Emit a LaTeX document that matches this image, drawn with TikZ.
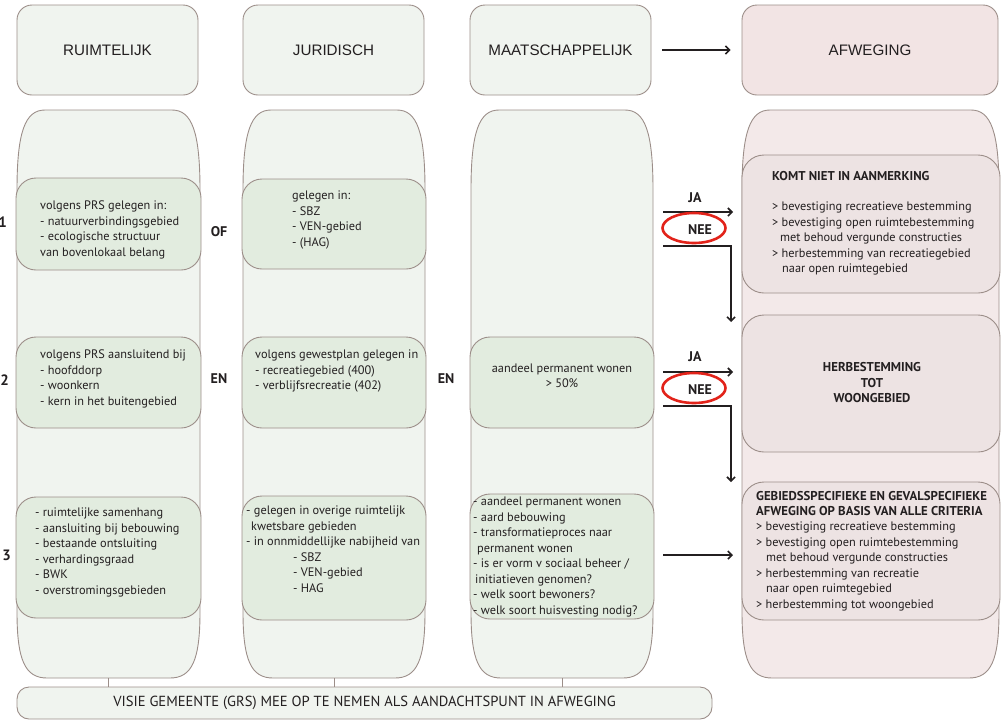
\documentclass[tikz,border=0pt]{standalone}
\usepackage{fontspec}
\setmainfont{PT Sans}
\newfontfamily\headfont{Liberation Sans}
\usetikzlibrary{arrows.meta,shapes.geometric}
\definecolor{bordc}{HTML}{9C8E89}
\definecolor{colgreen}{HTML}{F0F4EF}
\definecolor{innergreen}{HTML}{E2ECDF}
\definecolor{colpink}{HTML}{F3E9E9}
\definecolor{innerpink}{HTML}{EDE3E3}
\definecolor{headpink}{HTML}{F2E4E4}
\definecolor{neered}{HTML}{E2231A}
\definecolor{ink}{HTML}{231F20}
\newcommand{\tallcol}[3]{%
  \draw[colline, fill=#3] (#1,190) .. controls (#1,132) and (#1+8,110) .. (#1+28,110)
    -- (#2-28,110) .. controls (#2-8,110) and (#2,132) .. (#2,190)
    -- (#2,612) .. controls (#2,660) and (#2-8,678) .. (#2-30,678)
    -- (#1+30,678) .. controls (#1+8,678) and (#1,660) .. (#1,612) -- cycle;}
\tikzset{
  colline/.style={draw=bordc, line width=0.9pt},
  headbox/.style={draw=bordc, line width=0.9pt, rounded corners=15pt, minimum height=90pt,
    inner sep=0pt, text=ink, font=\headfont\fontsize{15.2}{17}\selectfont},
  innerg/.style={draw=bordc, fill=innergreen, line width=0.9pt, rounded corners=20pt, inner sep=0pt},
  innerp/.style={draw=bordc, fill=innerpink, line width=0.9pt, rounded corners=22pt, inner sep=0pt},
  txt/.style={align=left, inner sep=0pt, text=ink, font=\fontsize{12.3}{15.5}\selectfont},
  ctxt/.style={align=center, inner sep=0pt, text=ink, font=\fontsize{12.3}{15.5}\selectfont},
  btxt/.style={align=center, inner sep=0pt, text=ink, font=\bfseries\fontsize{12.8}{15.5}\selectfont},
  lbl/.style={inner sep=0pt, text=ink, font=\bfseries\fontsize{14}{16}\selectfont},
  arr/.style={line width=1.6pt, draw=ink, -{Straight Barb[length=4pt,width=8pt]}},
  neering/.style={ellipse, draw=neered, line width=2.6pt, minimum width=63pt, minimum height=30pt, inner sep=0pt},
}
\begin{document}
\begin{tikzpicture}[x=1pt,y=-1pt]
\useasboundingbox (0,0) rectangle (1001,721);

% header boxes
\node[headbox, fill=colgreen, minimum width=181pt] (h1) at (107.5,50) {RUIMTELIJK};
\node[headbox, fill=colgreen, minimum width=181pt] (h2) at (333.5,50) {JURIDISCH};
\node[headbox, fill=colgreen, minimum width=181pt] (h3) at (560.5,50) {MAATSCHAPPELIJK};
\node[headbox, fill=headpink, minimum width=256pt] (h4) at (870,50) {AFWEGING};
\draw[arr] ([xshift=11pt]h3.east) -- ([xshift=-11pt]h4.west);

% tall columns
\tallcol{17}{200}{colgreen}
\tallcol{243}{425}{colgreen}
\tallcol{471}{653}{colgreen}
\tallcol{742}{999}{colpink}

% bottom box
\node[draw=bordc, fill=colgreen, line width=0.9pt, rounded corners=12pt, minimum width=695pt,
  minimum height=32pt, inner sep=0pt, text=ink, font=\fontsize{14.6}{16}\selectfont] (visie) at (364.5,703)
  {VISIE GEMEENTE (GRS) MEE OP TE NEMEN ALS AANDACHTSPUNT IN AFWEGING};
\coordinate (k1) at (108.5,678);
\coordinate (k2) at (334,678);
\coordinate (k3) at (562,678);
\draw[colline] (k1) -- (k1 |- visie.north);
\draw[colline] (k2) -- (k2 |- visie.north);
\draw[colline] (k3) -- (k3 |- visie.north);

% inner boxes column 1
\node[innerg, minimum width=185pt, minimum height=92pt] (c1b1) at (108.5,224) {};
\node[innerg, minimum width=185pt, minimum height=91pt] (c1b2) at (108.5,382.5) {};
\node[innerg, minimum width=185pt, minimum height=121pt] (c1b3) at (108.5,557.5) {};
% column 2
\node[innerg, minimum width=184pt, minimum height=90pt] (c2b1) at (334,224) {};
\node[innerg, minimum width=184pt, minimum height=91pt] (c2b2) at (334,382.5) {};
\node[innerg, minimum width=184pt, minimum height=124pt] (c2b3) at (334,558) {};
% column 3
\node[innerg, minimum width=184pt, minimum height=91pt] (c3b2) at (562,382.5) {};
\node[innerg, minimum width=184pt, minimum height=125pt] (c3b3) at (562,556.5) {};
% right column
\node[innerp, minimum width=258pt, minimum height=138pt] (r1) at (871,224) {};
\node[innerp, minimum width=258pt, minimum height=137pt] (r2) at (871,383.5) {};
\node[innerp, minimum width=258pt, minimum height=138pt] (r3) at (871,551) {};

% texts
\node[txt, anchor=north west] (t11) at (40,201) {volgens PRS gelegen in:\\- natuurverbindingsgebied\\- ecologische structuur\\van bovenlokaal belang};
\node[txt, anchor=north west] (t12) at (40,350) {volgens PRS aansluitend bij\\- hoofddorp\\- woonkern\\- kern in het buitengebied};
\node[txt, anchor=north west] (t13) at (35,508) {- ruimtelijke samenhang\\- aansluiting bij bebouwing\\- bestaande ontsluiting\\- verhardingsgraad\\- BWK\\- overstromingsgebieden};
\node[txt, anchor=north west] (t21) at (292,191) {gelegen in:\\- SBZ\\- VEN-gebied\\- (HAG)};
\node[txt, anchor=north west] (t22) at (255,350) {volgens gewestplan gelegen in\\- recreatiegebied (400)\\- verblijfsrecreatie (402)};
\node[txt, anchor=north west] (t23) at (246,506) {- gelegen in overige ruimtelijk\\\hspace*{5pt}kwetsbare gebieden\\- in onnmiddellijke nabijheid van\\\hspace*{47pt}- SBZ\\\hspace*{47pt}- VEN-gebied\\\hspace*{47pt}- HAG};
\node[ctxt] (t32) at (562,376) {aandeel permanent wonen\\{>} 50\%};
\node[txt, anchor=north west] (t33) at (473,497) {- aandeel permanent wonen\\- aard bebouwing\\- transformatieproces naar\\\hspace*{4pt}permanent wonen\\- is er vorm v sociaal beheer /\\\hspace*{2pt}initiatieven genomen?\\- welk soort bewoners?\\- welk soort huisvesting nodig?};

\node[txt, anchor=north west, font=\bfseries\fontsize{12.8}{15.5}\selectfont] (tr1h) at (772,171) {KOMT NIET IN AANMERKING};
\node[txt, anchor=north west] (tr1) at (772,202) {{>} bevestiging recreatieve bestemming\\{>} bevestiging open ruimtebestemming\\\hspace*{8pt}met behoud vergunde constructies\\{>} herbestemming van recreatiegebied\\\hspace*{10pt}naar open ruimtegebied};
\node[btxt] (tr2) at (872,383) {HERBESTEMMING\\TOT\\WOONGEBIED};
\node[txt, anchor=north west] (tr3h) at (756,491) {\bfseries\fontsize{12.8}{15.5}\selectfont GEBIEDSSPECIFIEKE EN GEVALSPECIFIEKE\\\bfseries\fontsize{12.8}{15.5}\selectfont AFWEGING OP BASIS VAN ALLE CRITERIA};
\node[txt, anchor=north west] (tr3) at (756,522) {{>} bevestiging recreatieve bestemming\\{>} bevestiging open ruimtebestemming\\\hspace*{10pt}met behoud vergunde constructies\\{>} herbestemming van recreatie\\\hspace*{10pt}naar open ruimtegebied\\{>} herbestemming tot woongebied};

% OF / EN labels and numbers
\node[lbl] (of1) at (219,232) {OF};
\node[lbl] (en1) at (219,379) {EN};
\node[lbl] (en2) at (446,379) {EN};
\node[lbl, anchor=east, font=\bfseries\fontsize{15}{17}\selectfont] (n1) at (7,222) {1};
\node[lbl, anchor=east, font=\bfseries\fontsize{15}{17}\selectfont] (n2) at (9,380) {2};
\node[lbl, anchor=east, font=\bfseries\fontsize{15}{17}\selectfont] (n3) at (11,555) {3};

% row 1 decision
\coordinate (a1s) at (663,212);
\coordinate (a1e) at (733,212);
\coordinate (b1s) at (663,246);
\coordinate (b1m) at (731,246);
\coordinate (b1e) at (731,322);
\node[lbl] (ja1) at (695,198) {JA};
\draw[arr] (a1s) -- (a1e);
\node[neering] (ring1) at (694,228) {};
\node[lbl] (nee1) at (700,230) {NEE};
\draw[arr] (b1s) -- (b1m) -- (b1e);

% row 2 decision
\coordinate (a2s) at (663,372);
\coordinate (a2e) at (733,372);
\coordinate (b2s) at (663,406);
\coordinate (b2m) at (731,406);
\coordinate (b2e) at (731,482);
\node[lbl] (ja2) at (695,357) {JA};
\draw[arr] (a2s) -- (a2e);
\node[neering] (ring2) at (694,388) {};
\node[lbl] (nee2) at (700,390) {NEE};
\draw[arr] (b2s) -- (b2m) -- (b2e);

% row 3
\coordinate (a3s) at (663,555);
\coordinate (a3e) at (733,555);
\draw[arr] (a3s) -- (a3e);
\end{tikzpicture}
\end{document}
